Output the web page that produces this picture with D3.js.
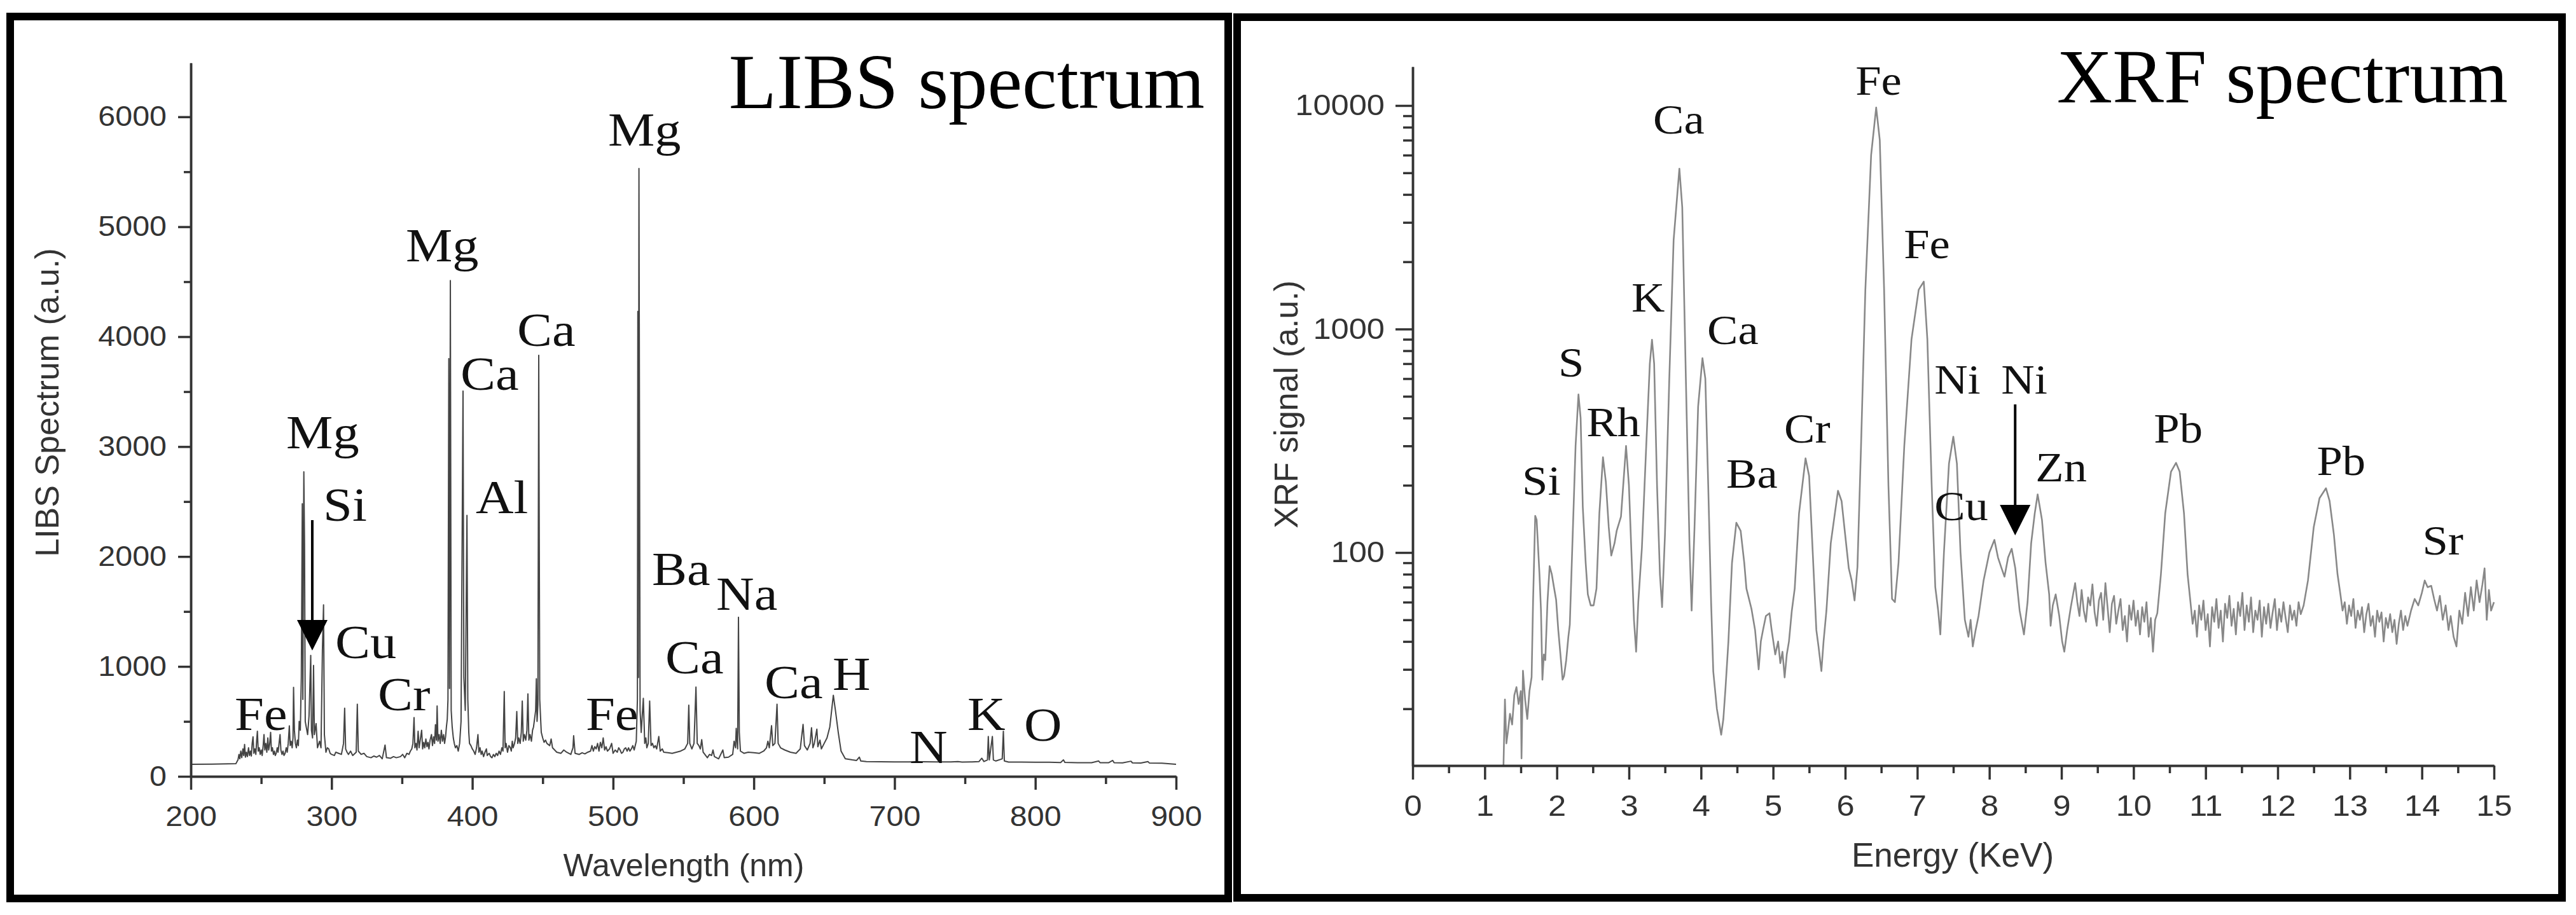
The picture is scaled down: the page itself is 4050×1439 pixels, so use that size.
<!DOCTYPE html>
<meta charset="utf-8">
<style>
body { margin: 0; background: #fff; }
svg { display: block; }
.axis .domain, .axis .tick line { stroke: #333; stroke-width: 3.5px; }
.axis .tick text { font-family: "Liberation Sans", Arial, sans-serif; fill: #333; }
.peak { font-family: "Liberation Serif", "Times New Roman", serif; fill: #111; }
.title { font-family: "Liberation Serif", "Times New Roman", serif; fill: #000; }
.axis-title { font-family: "Liberation Sans", Arial, sans-serif; fill: #333; }
.frame { fill: none; stroke: #000; stroke-width: 12px; }
</style>
<div id="chart"></div>
<script src="https://d3js.org/d3.v7.min.js"></script>
<script>
var width = 4050, height = 1439;
var textStretch = 1.1;

// ---- LIBS panel data ----
var libsXTicks = [200, 300, 400, 500, 600, 700, 800, 900];
var libsXMinor = [250, 350, 450, 550, 650, 750, 850];
var libsYTicks = [0, 1000, 2000, 3000, 4000, 5000, 6000];
var libsYMinor = [500, 1500, 2500, 3500, 4500, 5500];

// [wavelength nm, intensity a.u.]
var libsSpectrum = [
  [200,110],[215,112],[232,115],[233.5,150],[234.2,200],[234.8,160],[235.5,230],[236.2,170],[237,250],[237.6,190],
  [238.2,290],[238.8,175],[239.5,220],[240.2,180],[241,260],[241.7,190],[242.4,230],[243,185],[243.6,300],[244.2,360],
  [244.8,210],[245.5,250],[246.2,200],[246.8,330],[247.3,410],[247.9,230],[248.6,260],[249.3,200],[250,240],[250.7,190],
  [251.4,280],[252,380],[252.6,240],[253.3,300],[254,220],[254.7,350],[255.3,240],[256,290],[256.7,400],[257.3,230],
  [258,260],[258.7,200],[259.4,230],[260,190],[260.7,210],[261.4,260],[262,220],[262.7,300],[263.4,380],[264,240],
  [264.8,200],[265.5,230],[266.2,190],[267,210],[267.8,260],[268.5,220],[269.2,300],[270,460],[270.6,280],[271.3,320],
  [272,260],[272.6,350],[273,810],[273.6,420],[274.3,300],[275,260],[275.7,330],[276.4,280],[277,500],[277.8,420],
  [278.5,900],[279.2,2480],[279.6,700],[280.3,2770],[280.8,2110],[281.3,500],[282,450],[283,380],[284,550],[285.2,1100],
  [285.7,420],[286.5,350],[287.2,1010],[287.8,380],[289,480],[290,260],[291.5,320],[292.5,260],[293.5,1150],[294.3,1560],
  [294.9,380],[296,220],[297,260],[298,250],[299,210],[300,200],[302,190],[303,220],[305,210],[307,200],
  [308.5,300],[309.3,620],[310,250],[311,220],[312,200],[313.5,230],[315,190],[317.5,220],[318.3,657],[319,230],
  [321,200],[323,210],[325,180],[328,170],[330,185],[332,175],[334,190],[336,160],[338,285],[339,170],
  [342,165],[344,180],[346,170],[349,180],[350.5,200],[352,170],[353.5,210],[355,200],[356,230],[357,250],
  [357.8,300],[358.6,535],[359.2,260],[360,300],[360.7,240],[361.5,410],[362.2,260],[363,330],[364,420],[364.7,250],
  [365.5,310],[366.2,260],[367,340],[367.8,270],[368.5,310],[369.2,250],[370,330],[371,380],[371.7,280],[372.5,360],
  [373.2,300],[373.8,470],[374.5,330],[375,640],[375.6,320],[376.4,380],[377.2,300],[378,420],[378.8,320],[379.6,380],
  [380.3,300],[381,360],[381.6,450],[382.2,520],[382.7,700],[383.3,3800],[383.8,800],[384.4,4510],[385,600],[385.7,450],
  [386.5,350],[387.2,300],[388,260],[389,280],[390,230],[391,300],[392,500],[393.4,3505],[394,900],[395,600],
  [396.2,2375],[396.8,700],[397.5,400],[398,300],[399,280],[400,250],[401,230],[402,200],[403,260],[404,380],
  [404.7,220],[405.5,260],[406.3,200],[407,230],[408,180],[409,220],[410,250],[410.6,190],[412,210],[413,180],
  [414,170],[415,200],[416,180],[417,210],[418,190],[419,230],[420,200],[421,260],[421.8,230],[422.7,772],
  [423.3,260],[424,300],[425,220],[426,280],[427,260],[427.7,230],[428.4,320],[429,260],[430,300],[430.8,350],
  [431.6,590],[432.3,300],[433,350],[434,300],[434.8,400],[435.5,686],[436.2,320],[437,380],[438,330],[438.8,420],
  [439.5,750],[440.2,330],[441,380],[442,320],[442.8,420],[443.5,450],[444.2,520],[445,600],[445.5,888],[446,500],
  [446.6,650],[447.2,3830],[447.9,700],[449,400],[450,350],[451,310],[452,330],[453,300],[455,280],[456,340],
  [457,260],[458.5,240],[460,220],[463,210],[465,240],[467,220],[470,200],[471.5,260],[472,370],[473,210],
  [476,200],[478,215],[480,205],[482,220],[484,230],[485,280],[486,230],[487,270],[488,250],[489,300],
  [490,230],[491,310],[492,260],[493,350],[494,240],[495,270],[496,230],[497.5,250],[499,300],[500,210],
  [501.5,240],[503,220],[504,260],[505,240],[506,210],[507,220],[508,250],[509,260],[510,230],[511,260],
  [512,230],[513,250],[514,280],[515,240],[516.5,320],[517.3,700],[517.6,4230],[518.0,900],[518.4,5530],[519.2,600],
  [520,400],[521.5,710],[522.5,300],[523.3,350],[524,260],[525,300],[526,685],[527,280],[528,300],[529,260],
  [530,280],[531,250],[532.5,363],[533.5,230],[535,250],[536,220],[539,215],[542,210],[545,220],[548,230],
  [551,250],[553,300],[553.8,648],[554.5,300],[556,250],[557.5,300],[558.9,813],[559.8,300],[561,280],[562,250],
  [563,334],[564,220],[567,170],[568.5,200],[570,190],[571,240],[572,180],[575,160],[578,240],[579,170],
  [582,175],[585,200],[586,320],[587,260],[587.5,437],[588.2,300],[588.5,250],[589.1,1447],[589.7,400],[590.5,230],
  [593,210],[596,220],[600,215],[604,210],[607,230],[609,260],[610,320],[611,260],[612.6,461],[613.5,280],
  [615,300],[616.5,657],[617.3,300],[619,260],[622,240],[626,220],[630,210],[633,250],[635,473],[636,280],
  [638,240],[640,300],[641,443],[642,260],[643,300],[644.8,430],[645.5,270],[647,330],[648,250],[650,300],
  [652,350],[654,450],[656.5,738],[658,600],[660,400],[662,230],[665,160],[670,150],[673,145],[675,175],
  [676,140],[680,135],[690,133],[700,132],[710,132],[720,133],[730,132],[740,132],[745,135],[748,130],
  [755,132],[760,135],[762,165],[763.5,135],[766,150],[766.6,363],[767.3,150],[769.5,363],[770.2,150],[772,140],
  [776.5,160],[777.3,410],[778,140],[781,130],[790,130],[800,128],[810,128],[818,126],[820,150],[821,127],
  [830,125],[840,124],[845,140],[846,125],[852,124],[855,145],[856,124],[862,123],[868,138],[869,123],
  [875,122],[880,135],[881,122],[890,120],[900,110]
];

// [label, wavelength, intensity] (left edge, baseline)
var libsLabels = [
  ["Fe", 231.2, 422], ["Mg", 267.8, 2984], ["Si", 294.0, 2325], ["Cu", 302.6, 1076],
  ["Cr", 332.9, 601], ["Mg", 352.7, 4685], ["Ca", 391.6, 3516], ["Al", 402.4, 2394],
  ["Ca", 431.8, 3916], ["Fe", 480.6, 422], ["Mg", 496.4, 5737], ["Ba", 527.6, 1741],
  ["Na", 573.3, 1515], ["Ca", 537.1, 937], ["Ca", 607.6, 711], ["H", 656.0, 787],
  ["N", 710.6, 121], ["K", 751.8, 422], ["O", 792.0, 324]
];
var libsArrow = [286.3, 2331, 1145]; // wavelength, start, tip

// ---- XRF panel data ----
var xrfXTicks = [0, 1, 2, 3, 4, 5, 6, 7, 8, 9, 10, 11, 12, 13, 14, 15];
var xrfXMinor = [0.5, 1.5, 2.5, 3.5, 4.5, 5.5, 6.5, 7.5, 8.5, 9.5, 10.5, 11.5, 12.5, 13.5, 14.5];
var xrfYTicks = [100, 1000, 10000];
var xrfYMinor = [20, 30, 40, 50, 60, 70, 80, 90, 200, 300, 400, 500, 600, 700, 800, 900,
                 2000, 3000, 4000, 5000, 6000, 7000, 8000, 9000];

// [energy KeV, counts]
var xrfSpectrum = [
  [1.26,11.2],[1.28,22],[1.30,14],[1.32,15.7],[1.35,19],[1.38,17],[1.41,23],[1.44,25],[1.47,21],[1.50,24],
  [1.51,12],[1.53,29.6],[1.56,22],[1.59,18],[1.62,24],[1.65,27.7],[1.67,60],[1.70,146],[1.72,140],[1.76,79],
  [1.78,55],[1.80,27],[1.82,35],[1.84,33],[1.87,60],[1.90,87],[1.93,80],[1.96,70],[1.99,61.5],[2.02,45],
  [2.05,35],[2.08,27],[2.10,28],[2.13,33],[2.16,42],[2.18,47.6],[2.22,120],[2.26,300],[2.30,510],[2.33,400],
  [2.36,160],[2.40,90],[2.43,65],[2.47,58],[2.51,58],[2.55,69],[2.59,150],[2.64,267],[2.68,207],[2.72,130],
  [2.755,97],[2.80,110],[2.83,125],[2.89,145],[2.96,300],[3.00,200],[3.04,90],[3.07,50],[3.10,36],[3.13,60],
  [3.18,105],[3.24,300],[3.29,700],[3.32,895],[3.35,700],[3.39,200],[3.43,80],[3.46,57],[3.50,120],[3.56,600],
  [3.62,2500],[3.70,5220],[3.74,3500],[3.79,600],[3.84,110],[3.87,55],[3.91,130],[3.96,450],[4.02,741],[4.06,600],
  [4.10,200],[4.14,60],[4.17,29.4],[4.22,20],[4.28,15.3],[4.31,18],[4.34,24.8],[4.38,40],[4.43,90],[4.49,136],
  [4.55,125],[4.60,90],[4.63,69],[4.70,56],[4.75,45],[4.80,30],[4.83,40],[4.86,45],[4.90,52],[4.95,53.5],
  [4.98,45],[5.03,35],[5.07,40],[5.10,32],[5.13,36],[5.16,27.6],[5.19,35],[5.22,40],[5.26,55],[5.30,69],
  [5.36,150],[5.45,264],[5.50,220],[5.55,100],[5.60,45],[5.63,38],[5.67,29.5],[5.70,40],[5.74,55],[5.80,110],
  [5.90,189],[5.95,170],[6.00,120],[6.05,85],[6.09,75],[6.13,61],[6.17,86],[6.22,300],[6.28,1500],[6.36,6000],
  [6.43,9800],[6.48,7000],[6.54,1500],[6.60,200],[6.65,62],[6.69,60],[6.74,90],[6.82,300],[6.92,900],[7.02,1500],
  [7.09,1630],[7.14,900],[7.20,200],[7.25,70],[7.29,55],[7.32,43],[7.37,100],[7.44,250],[7.50,330],[7.55,250],
  [7.60,100],[7.66,50],[7.71,42],[7.74,50],[7.77,38],[7.81,45],[7.85,52],[7.92,75],[8.00,100],[8.07,114],
  [8.12,95],[8.17,85],[8.21,78],[8.26,95],[8.31,104],[8.36,85],[8.42,55],[8.48,43],[8.53,60],[8.58,110],
  [8.63,150],[8.67,182],[8.73,140],[8.78,90],[8.83,65],[8.85,47],[8.88,58],[8.92,65],[8.97,52],[9.01,40],
  [9.04,36],[9.08,45],[9.13,57],[9.19,73],[9.22,60],[9.25,52],[9.28,68],[9.31,55],[9.34,49],[9.37,63],
  [9.40,58],[9.43,72],[9.46,54],[9.49,47],[9.52,61],[9.55,66],[9.58,50],[9.61,73],[9.64,57],[9.67,44],
  [9.70,59],[9.73,64],[9.76,48],[9.79,55],[9.82,62],[9.85,45],[9.88,52],[9.91,40],[9.94,58],[9.97,50],
  [10.00,61],[10.03,47],[10.06,55],[10.09,43],[10.12,57],[10.15,49],[10.18,60],[10.21,42],[10.24,51],[10.27,36],
  [10.30,50],[10.33,53.5],[10.38,80],[10.44,150],[10.52,230],[10.59,252],[10.64,230],[10.70,150],[10.75,80],[10.79,60],
  [10.82,48],[10.85,55],[10.88,42],[10.91,58],[10.94,50],[10.97,61],[11.00,45],[11.03,53],[11.06,38],[11.09,57],
  [11.12,49],[11.15,62],[11.18,46],[11.21,55],[11.24,40],[11.27,59],[11.30,51],[11.33,64],[11.36,47],[11.39,56],
  [11.42,43],[11.45,60],[11.48,52],[11.51,66],[11.54,45],[11.57,58],[11.60,49],[11.63,63],[11.66,44],[11.69,55],
  [11.72,50],[11.75,61],[11.78,42],[11.81,57],[11.84,48],[11.87,59],[11.90,46],[11.93,54],[11.96,62],[11.99,45],
  [12.02,56],[12.05,49],[12.08,60],[12.11,51],[12.14,44],[12.17,58],[12.20,50],[12.23,55],[12.26,47],[12.29,60],
  [12.32,53],[12.36,58],[12.42,75],[12.50,130],[12.58,175],[12.67,194],[12.72,170],[12.78,120],[12.83,80],[12.87,65],
  [12.90,55],[12.93,60],[12.96,48],[12.99,58],[13.02,52],[13.05,62],[13.08,46],[13.11,55],[13.14,50],[13.17,57],
  [13.20,44],[13.23,53],[13.26,59],[13.29,47],[13.32,52],[13.35,42],[13.38,55],[13.41,49],[13.44,54],[13.47,40],
  [13.50,51],[13.53,46],[13.56,53],[13.59,44],[13.62,50],[13.65,39],[13.68,48],[13.71,55],[13.74,45],[13.77,52],
  [13.80,47],[13.85,55],[13.90,62],[13.95,58],[14.00,66],[14.04,75],[14.08,70],[14.13,71],[14.17,62],[14.21,55],
  [14.25,64],[14.29,50],[14.33,58],[14.37,45],[14.40,52],[14.44,42],[14.48,38],[14.52,55],[14.56,48],[14.60,66],
  [14.64,52],[14.68,70],[14.72,55],[14.76,75],[14.80,60],[14.84,72],[14.87,85],[14.90,50],[14.93,68],[14.96,55],
  [15.00,60]
];

var xrfLabels = [
  ["Fe", 6.143, 11180], ["Ca", 3.336, 7497], ["K", 3.036, 1197], ["Ca", 4.086, 858],
  ["S", 2.021, 614], ["Rh", 2.410, 332], ["Si", 1.518, 181.5], ["Ba", 4.351, 195],
  ["Cr", 5.154, 311], ["Fe", 6.814, 2075], ["Ni", 7.237, 514], ["Ni", 8.164, 514],
  ["Cu", 7.237, 139.6], ["Zn", 8.641, 208.5], ["Pb", 10.282, 311], ["Pb", 12.542, 222],
  ["Sr", 14.007, 98]
];
var xrfArrow = [8.358, 460, 119.4];

var svg = d3.select("#chart").append("svg")
  .attr("width", width)
  .attr("height", height);

svg.append("rect").attr("width", width).attr("height", height).attr("fill", "#fff");

// panel frames
svg.append("rect").attr("class", "frame")
  .attr("x", 16).attr("y", 26).attr("width", 1915).attr("height", 1387);
svg.append("rect").attr("class", "frame")
  .attr("x", 1945).attr("y", 27).attr("width", 2083).attr("height", 1385);

function drawArrow(g, x, y, d) {
  var px = x(d[0]), y0 = y(d[1]), tip = y(d[2]);
  g.append("line")
    .attr("x1", px).attr("x2", px)
    .attr("y1", y0).attr("y2", tip - 40)
    .attr("stroke", "#000").attr("stroke-width", 4);
  g.append("path")
    .attr("d", "M" + (px - 24) + "," + (tip - 48) + "L" + (px + 24) + "," + (tip - 48) + "L" + px + "," + tip + "Z")
    .attr("fill", "#000");
}

// widen tick labels a little, the source figure is stretched sideways
function stretchLeft(sel) {
  sel.selectAll(".tick text")
    .attr("x", function() { return +this.getAttribute("x") / textStretch; })
    .attr("transform", "scale(" + textStretch + ",1)");
}
function stretchBottom(sel) {
  sel.selectAll(".tick text").attr("transform", "scale(" + textStretch + ",1)");
}

function peakLabels(g, data, x, y, size) {
  g.selectAll(".peak")
    .data(data)
    .enter()
    .append("text")
    .attr("class", "peak")
    .attr("transform", function(d) {
      return "translate(" + x(d[1]) + "," + y(d[2]) + ") scale(" + textStretch + ",1)";
    })
    .style("font-size", size + "px")
    .text(function(d) { return d[0]; });
}

// ================= LIBS =================
var x1 = d3.scaleLinear().domain([200, 900]).range([300, 1849]);
var y1 = d3.scaleLinear().domain([0, 6490]).range([1221, 99]);

var libs = svg.append("g");

libs.append("path")
  .datum(libsSpectrum)
  .attr("fill", "none")
  .attr("stroke", "#444")
  .attr("stroke-width", 2)
  .attr("stroke-linejoin", "round")
  .attr("d", d3.line().x(function(d) { return x1(d[0]); }).y(function(d) { return y1(d[1]); }));

libs.append("g").attr("class", "axis")
  .attr("transform", "translate(0,1221)")
  .call(d3.axisBottom(x1).tickValues(libsXMinor).tickSize(12).tickSizeOuter(0).tickFormat(""));
libs.append("g").attr("class", "axis")
  .attr("transform", "translate(0,1221)")
  .call(d3.axisBottom(x1).tickValues(libsXTicks).tickSize(21).tickSizeOuter(0).tickPadding(26).tickFormat(d3.format("d")))
  .call(stretchBottom)
  .selectAll("text").style("font-size", "44px");

libs.append("g").attr("class", "axis")
  .attr("transform", "translate(300,0)")
  .call(d3.axisLeft(y1).tickValues(libsYMinor).tickSize(11).tickSizeOuter(0).tickFormat(""));
libs.append("g").attr("class", "axis")
  .attr("transform", "translate(300,0)")
  .call(d3.axisLeft(y1).tickValues(libsYTicks).tickSize(20).tickSizeOuter(0).tickPadding(18).tickFormat(d3.format("d")))
  .call(stretchLeft)
  .selectAll("text").style("font-size", "44px");

libs.append("text").attr("class", "axis-title")
  .attr("x", 1075).attr("y", 1378)
  .attr("text-anchor", "middle")
  .style("font-size", "50px")
  .text("Wavelength (nm)");

libs.append("text").attr("class", "axis-title")
  .attr("transform", "translate(92,633) rotate(-90)")
  .attr("text-anchor", "middle")
  .style("font-size", "52px")
  .text("LIBS Spectrum (a.u.)");

libs.append("text").attr("class", "title")
  .attr("x", 1894).attr("y", 170)
  .attr("text-anchor", "end")
  .style("font-size", "123px")
  .text("LIBS spectrum");

peakLabels(libs, libsLabels, x1, y1, 75);
drawArrow(libs, x1, y1, libsArrow);

// ================= XRF =================
var x2 = d3.scaleLinear().domain([0, 15]).range([2221, 3921]);
var y2 = d3.scaleLog().domain([11.14, 14910]).range([1204, 105]);

var xrf = svg.append("g");

xrf.append("path")
  .datum(xrfSpectrum)
  .attr("fill", "none")
  .attr("stroke", "#888")
  .attr("stroke-width", 2.6)
  .attr("stroke-linejoin", "round")
  .attr("d", d3.line().x(function(d) { return x2(d[0]); }).y(function(d) { return y2(d[1]); }));

xrf.append("g").attr("class", "axis")
  .attr("transform", "translate(0,1204)")
  .call(d3.axisBottom(x2).tickValues(xrfXMinor).tickSize(12).tickSizeOuter(0).tickFormat(""));
xrf.append("g").attr("class", "axis")
  .attr("transform", "translate(0,1204)")
  .call(d3.axisBottom(x2).tickValues(xrfXTicks).tickSize(22).tickSizeOuter(0).tickPadding(24).tickFormat(d3.format("d")))
  .call(stretchBottom)
  .selectAll("text").style("font-size", "46px");

xrf.append("g").attr("class", "axis")
  .attr("transform", "translate(2221,0)")
  .call(d3.axisLeft(y2).tickValues(xrfYMinor).tickSize(15).tickSizeOuter(0).tickFormat(""));
xrf.append("g").attr("class", "axis")
  .attr("transform", "translate(2221,0)")
  .call(d3.axisLeft(y2).tickValues(xrfYTicks).tickSize(27).tickSizeOuter(0).tickPadding(17).tickFormat(d3.format("d")))
  .call(stretchLeft)
  .selectAll("text").style("font-size", "46px");

xrf.append("text").attr("class", "axis-title")
  .attr("x", 3070).attr("y", 1363)
  .attr("text-anchor", "middle")
  .style("font-size", "53px")
  .text("Energy (KeV)");

xrf.append("text").attr("class", "axis-title")
  .attr("transform", "translate(2040,636) rotate(-90)")
  .attr("text-anchor", "middle")
  .style("font-size", "52px")
  .text("XRF signal (a.u.)");

xrf.append("text").attr("class", "title")
  .attr("x", 3943).attr("y", 161)
  .attr("text-anchor", "end")
  .style("font-size", "121px")
  .text("XRF spectrum");

peakLabels(xrf, xrfLabels, x2, y2, 66);
drawArrow(xrf, x2, y2, xrfArrow);
</script>
